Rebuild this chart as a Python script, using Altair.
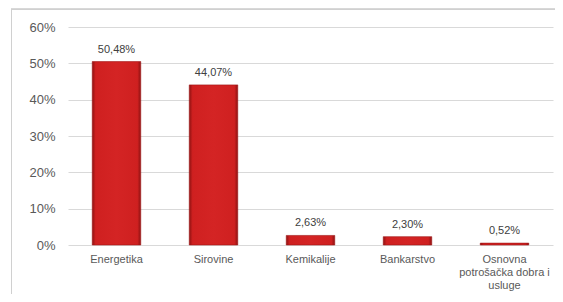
import altair as alt
import pandas as pd

categories = ["Energetika", "Sirovine", "Kemikalije", "Bankarstvo", "Osnovna|potrošačka dobra i|usluge"]
values = [50.48, 44.07, 2.63, 2.30, 0.52]
labels = ["50,48%", "44,07%", "2,63%", "2,30%", "0,52%"]
y_ticks = [0, 10, 20, 30, 40, 50, 60]

df = pd.DataFrame({"cat": categories, "val": values, "lab": labels})

grad = alt.LinearGradient(
    gradient="linear", x1=0, x2=1, y1=0, y2=0,
    stops=[
        alt.GradientStop(color="#8e1212", offset=0),
        alt.GradientStop(color="#cf2020", offset=0.07),
        alt.GradientStop(color="#d42424", offset=0.5),
        alt.GradientStop(color="#cf2020", offset=0.93),
        alt.GradientStop(color="#8e1212", offset=1),
    ],
)

y_scale = alt.Scale(domain=[0, 60], nice=False)
y_axis = alt.Axis(values=y_ticks, labelExpr="datum.value + '%'",
                  labelFont="Liberation Sans", labelFontSize=13, labelColor="#595959",
                  labelPadding=13, ticks=False, domain=False,
                  gridColor="#d9d9d9", gridWidth=1, grid=True, title=None)

x = alt.X("cat:N", sort=categories, title=None,
          scale=alt.Scale(paddingInner=0.5, paddingOuter=0.25),
          axis=alt.Axis(labelAngle=0, labelExpr="split(datum.value, '|')",
                        labelFont="Liberation Sans", labelFontSize=11, labelColor="#595959",
                        labelPadding=8, labelLineHeight=13, ticks=False, domain=False,
                        labelBaseline="top"))
y = alt.Y("val:Q", title=None, scale=y_scale, axis=y_axis)

bars = alt.Chart(df).mark_bar(color=grad, stroke="#a01616", strokeWidth=0.6).encode(x=x, y=y)

text = alt.Chart(df).mark_text(baseline="bottom", dy=-7, font="Liberation Sans",
                               fontSize=11, color="#404040").encode(x=x, y=y, text="lab:N")

frame_left = alt.Chart(df).mark_rule(stroke="#d0d0d0", strokeWidth=1).encode(
    x=alt.value(-56.5), y=alt.value(-18), y2=alt.value(400))
frame_top = alt.Chart(df).mark_rule(stroke="#d0d0d0", strokeWidth=1).encode(
    y=alt.YDatum(64.9, type="quantitative", scale=y_scale, axis=y_axis, title=None),
    x=alt.value(-57), x2=alt.value(560))

chart = alt.layer(frame_left, frame_top, bars, text).properties(
    width=485, height=218,
    autosize=alt.AutoSizeParams(type="none"),
    padding={"left": 60, "top": 19, "right": 2, "bottom": 49},
).configure_view(stroke=None, clip=False)

chart.save("out.html", embed_options={"renderer": "svg", "actions": False})
